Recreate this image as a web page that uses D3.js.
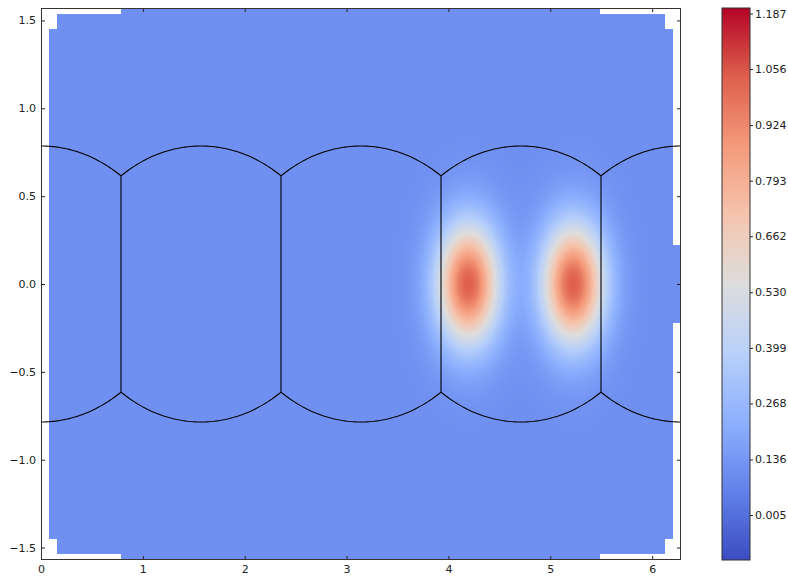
<!DOCTYPE html>
<html><head><meta charset="utf-8">
<script src="https://cdn.jsdelivr.net/npm/d3@7"></script>
<style>
body{margin:0;background:#fff;}
svg{display:block;}
text{font-family:"DejaVu Sans",sans-serif;font-size:11px;fill:#222;}
</style>
</head><body>
<svg id="chart" width="788" height="576"></svg>
<script>
const PI = Math.PI;

// tick labels
const xTicks = [0, 1, 2, 3, 4, 5, 6];
const yTicks = [-1.5, -1.0, -0.5, 0.0, 0.5, 1.0, 1.5];
const cbTicks = [0.005, 0.136, 0.268, 0.399, 0.530, 0.662, 0.793, 0.924, 1.056, 1.187];
const cbTickLabels = ["0.005", "0.136", "0.268", "0.399", "0.530", "0.662", "0.793", "0.924", "1.056", "1.187"];

// field values
const colorDomain = [-0.101, 1.200];
const backgroundValue = 0.110;
const hillLon = [4.195, 5.226];
const hillLat = [0.0, 0.0];
const hillPeak = [0.93, 0.93];
const hillSigmaLon = [0.215, 0.215];
const hillSigmaLat = [0.24, 0.24];

// region covered by the field (lon, lat outline)
const maskLon = [0.079, 0.157, 0.157, 0.785, 0.785, 5.490, 5.490, 6.126, 6.126, 6.200, 6.200, 6.2832, 6.2832, 6.200, 6.200, 6.126, 6.126, 5.490, 5.490, 0.785, 0.785, 0.157, 0.157, 0.079];
const maskLat = [1.451, 1.451, 1.535, 1.535, 1.5708, 1.5708, 1.535, 1.535, 1.451, 1.451, 0.222, 0.222, -0.222, -0.222, -1.451, -1.451, -1.535, -1.535, -1.5708, -1.5708, -1.535, -1.535, -1.451, -1.451];

// cubed-sphere panel geometry
const faceCenterLon = [0, PI/2, PI, 3*PI/2, 2*PI];
const faceEdgeLon = [PI/4, 3*PI/4, 5*PI/4, 7*PI/4];

// coolwarm colormap anchors
const coolwarm = ["#3b4cc0", "#6282ea", "#8db0fe", "#b8d0f9", "#dddddd", "#f5c4ad", "#f49a7b", "#de604d", "#b40426"];

const L = 41, R = 681, T = 8, B = 560;
const svg = d3.select("#chart");
const x = d3.scaleLinear().domain([0, 2*PI]).range([L, R]);
const y = d3.scaleLinear().domain([-PI/2, PI/2]).range([B, T]);
const cmap = d3.piecewise(d3.interpolateRgb, coolwarm);
const color = d3.scaleSequential(cmap).domain(colorDomain).clamp(true);

// field raster
const W = R - L, H = B - T;
const canvas = document.createElement("canvas");
canvas.width = W; canvas.height = H;
const ctx = canvas.getContext("2d");
const img = ctx.createImageData(W, H);
const maskPoly = maskLon.map((v, i) => [v, maskLat[i]]);
for (let j = 0; j < H; j++) {
  const lat = y.invert(T + j + 0.5);
  for (let i = 0; i < W; i++) {
    const lon = x.invert(L + i + 0.5);
    const k = (j * W + i) * 4;
    if (!d3.polygonContains(maskPoly, [lon, lat])) { img.data[k+3] = 0; continue; }
    let v = backgroundValue;
    for (let h = 0; h < hillLon.length; h++) {
      const dx = (lon - hillLon[h]) / hillSigmaLon[h];
      const dy = (lat - hillLat[h]) / hillSigmaLat[h];
      v += hillPeak[h] * Math.exp(-0.5 * (dx*dx + dy*dy));
    }
    const c = d3.rgb(color(v));
    img.data[k] = c.r; img.data[k+1] = c.g; img.data[k+2] = c.b; img.data[k+3] = 255;
  }
}
ctx.putImageData(img, 0, 0);
svg.append("image").attr("x", L).attr("y", T).attr("width", W).attr("height", H)
  .attr("href", canvas.toDataURL());

// panel edges
const line = d3.line().x(d => x(d[0])).y(d => y(d[1]));
const g = svg.append("g").attr("fill", "none").attr("stroke", "#000").attr("stroke-width", 1.1);
faceCenterLon.forEach(c => {
  const lo = Math.max(0, c - PI/4), hi = Math.min(2*PI, c + PI/4);
  [1, -1].forEach(s => {
    const pts = d3.range(0, 61).map(k => {
      const lon = lo + (hi - lo) * k / 60;
      return [lon, s * Math.atan(Math.cos(lon - c))];
    });
    g.append("path").attr("d", line(pts));
  });
});
faceEdgeLon.forEach(e => {
  const lat = Math.atan(Math.cos(PI/4));
  g.append("path").attr("d", line([[e, -lat], [e, lat]]));
});

// axes
const fmtY = d3.format(".1f");
const ax = (gen) => gen.tickSizeInner(-4).tickSizeOuter(0).tickPadding(5);
const axB = svg.append("g").attr("transform", `translate(0,${B})`)
  .call(ax(d3.axisBottom(x).tickValues(xTicks).tickFormat(d3.format("d"))));
const axT = svg.append("g").attr("transform", `translate(0,${T})`)
  .call(ax(d3.axisTop(x).tickValues(xTicks).tickFormat("")));
const axLf = svg.append("g").attr("transform", `translate(${L},0)`)
  .call(ax(d3.axisLeft(y).tickValues(yTicks).tickFormat(fmtY)));
const axRt = svg.append("g").attr("transform", `translate(${R},0)`)
  .call(ax(d3.axisRight(y).tickValues(yTicks).tickFormat("")));
[axB, axT, axLf, axRt].forEach(a => {
  a.select(".domain").remove();
  a.selectAll(".tick line").attr("stroke", "#222");
  a.selectAll("text").attr("fill", "#222").style("font-family", "DejaVu Sans, sans-serif").style("font-size", "11px");
});
svg.append("rect").attr("x", L + 0.5).attr("y", T + 0.5).attr("width", W - 1).attr("height", H - 1)
  .attr("fill", "none").attr("stroke", "#333").attr("stroke-width", 1);

// colorbar
const cbX = 722, cbW = 28;
const cy = d3.scaleLinear().domain(colorDomain).range([B, T]);
const defs = svg.append("defs");
const grad = defs.append("linearGradient").attr("id", "cbgrad")
  .attr("x1", 0).attr("y1", 1).attr("x2", 0).attr("y2", 0);
d3.range(0, 41).forEach(k => {
  const t = k / 40;
  grad.append("stop").attr("offset", t).attr("stop-color", cmap(t));
});
svg.append("rect").attr("x", cbX).attr("y", T).attr("width", cbW).attr("height", H)
  .attr("fill", "url(#cbgrad)").attr("stroke", "#333").attr("stroke-width", 1);
const cbAxis = svg.append("g").attr("transform", `translate(${cbX + cbW},0)`)
  .call(d3.axisRight(cy).tickValues(cbTicks).tickFormat((d, i) => cbTickLabels[i])
    .tickSizeInner(3).tickSizeOuter(0).tickPadding(2));
cbAxis.select(".domain").remove();
cbAxis.selectAll(".tick line").attr("stroke", "#222");
cbAxis.selectAll("text").attr("fill", "#222").style("font-family", "DejaVu Sans, sans-serif").style("font-size", "11px");
</script>
</body></html>
